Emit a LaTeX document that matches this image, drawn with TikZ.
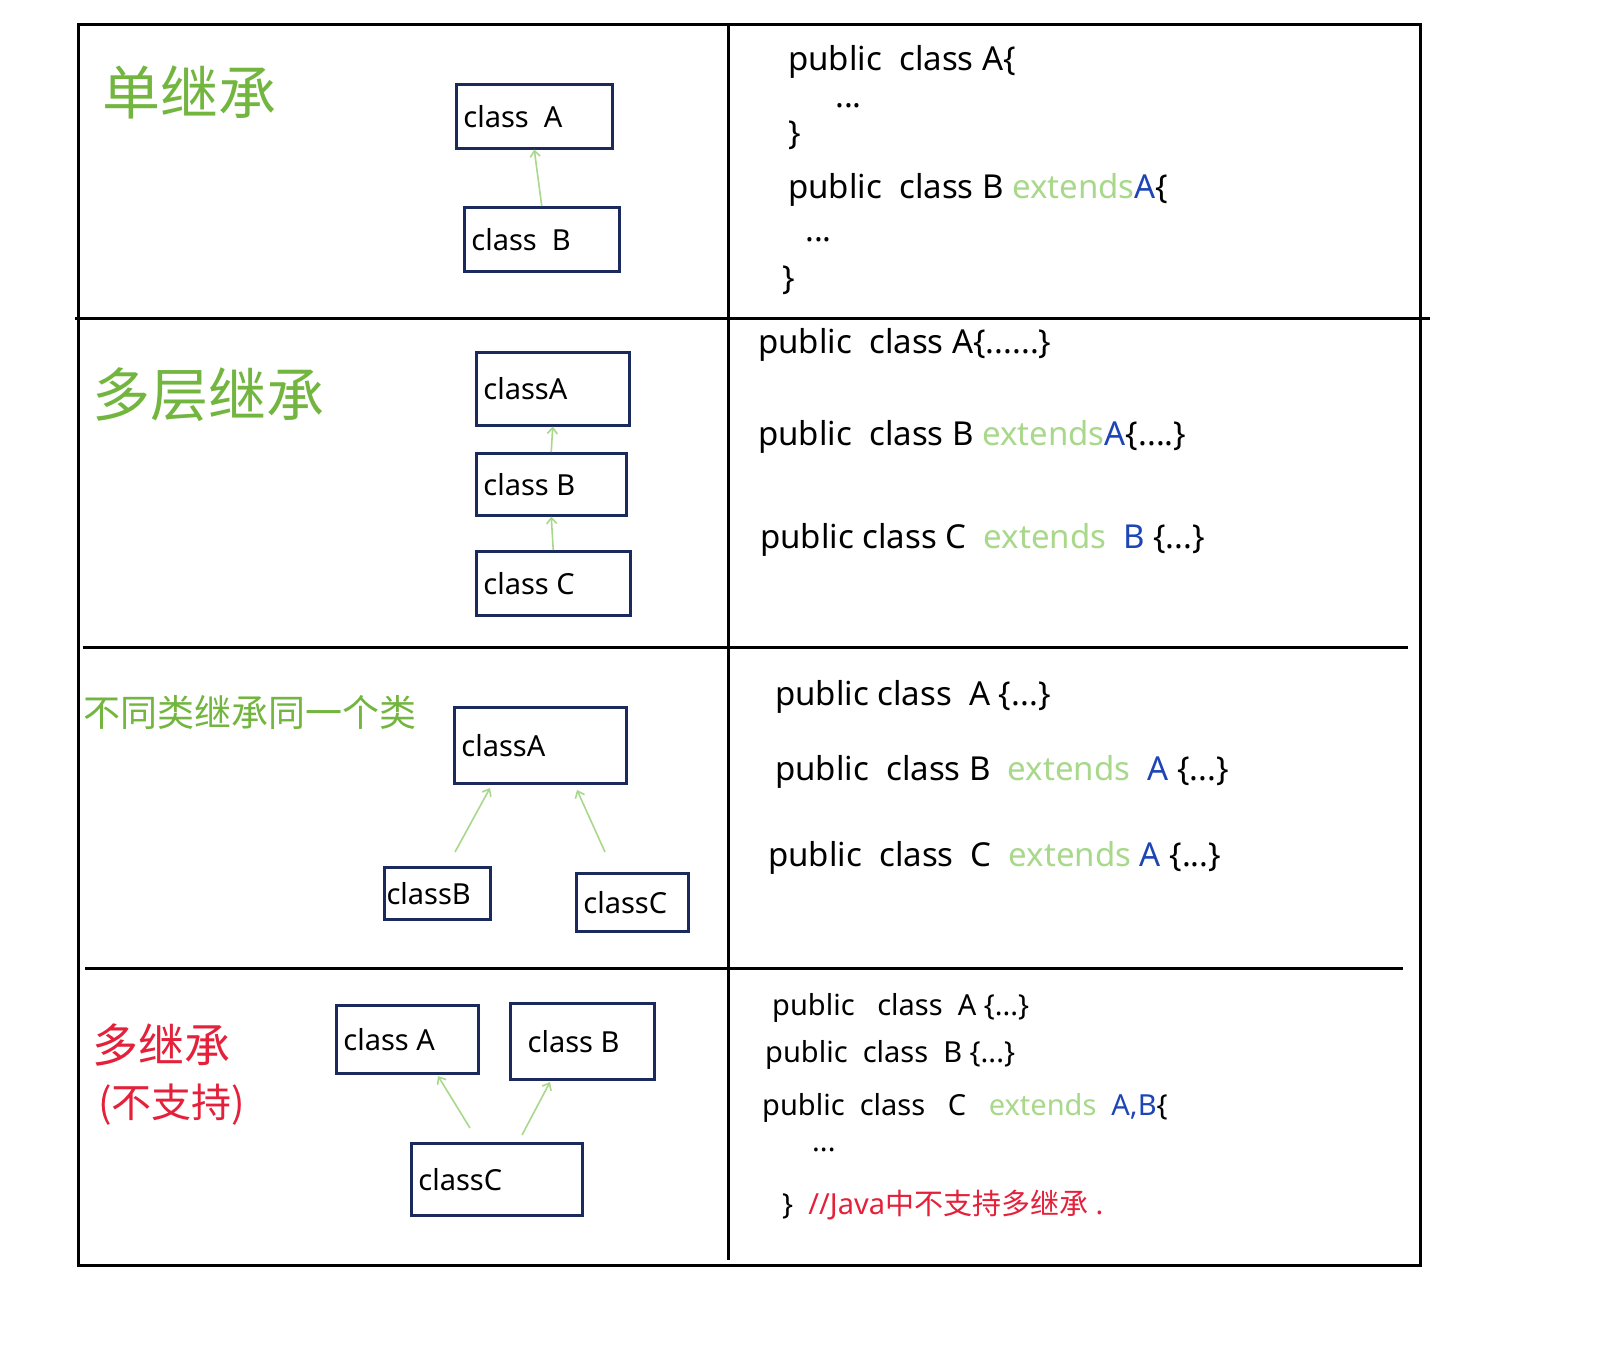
\documentclass[tikz,border=0pt]{standalone}
\usepackage{fontspec}
\setmainfont{Noto Sans}
\newfontfamily\cjk{Noto Sans CJK SC}
\usetikzlibrary{arrows.meta}
\definecolor{tgreen}{HTML}{72B53F}
\definecolor{lgreen}{HTML}{A8D88A}
\definecolor{cblue}{HTML}{1D45B5}
\definecolor{navy}{HTML}{1B2A5C}
\definecolor{cred}{HTML}{E4203A}
\tikzset{
 cls/.style={draw=navy,line width=2.5pt,anchor=north west,inner sep=0pt},
 ar/.style={draw=lgreen,line width=1.6pt,-{Straight Barb[length=6pt,width=10pt]}},
 code/.style={anchor=west,inner sep=0pt,font=\fontsize{33}{36}\selectfont},
 scode/.style={anchor=west,inner sep=0pt,font=\fontsize{29}{32}\selectfont},
 title/.style={anchor=west,inner sep=0pt,font=\cjk\fontsize{58}{60}\selectfont},
 boxtxt/.style={font=\fontsize{29}{32}\selectfont}
}
\begin{document}
\begin{tikzpicture}[x=1pt,y=-1pt]
\useasboundingbox[fill=white] (0,0) rectangle (1599,1358);
\draw[line width=3pt] (78,24) rectangle (1420,1265);
\draw[line width=3pt] (728,24) -- (728,1260);
\draw[line width=3pt] (75,318) -- (1430,318);
\draw[line width=3pt] (83,647) -- (1408,647);
\draw[line width=3pt] (85,968) -- (1403,968);
% section 1
\node[title,text=tgreen] (t1) at (102,92) {单继承};
\node[cls,minimum width=156,minimum height=64] (a1) at (455,83) {};
\node[boxtxt,anchor=west] at (a1.west) {\,class\ \ A};
\node[cls,minimum width=155,minimum height=64] (b1) at (463,206) {};
\node[boxtxt,anchor=west] at (b1.west) {\,class\ \ B};
\draw[ar] (b1.north) -- (a1.south);
\node[code] (c11) at (788,62) {public\ \ class A\{};
\node[code] (c12) at (835,106) {...};
\node[code] (c13) at (788,135) {\}};
\node[code] (c14) at (788,190) {public\ \ class B \textcolor{lgreen}{extends}\textcolor{cblue}{\textbf{A}}\{};
\node[code] (c15) at (805,240) {...};
\node[code] (c16) at (782,280) {\}};
% section 2
\node[title,text=tgreen] (t2) at (92,395) {多层继承};
\node[cls,minimum width=153,minimum height=73] (a2) at (475,351) {};
\node[boxtxt,anchor=west] at (a2.west) {\,classA};
\node[cls,minimum width=150,minimum height=62] (b2) at (475,452) {};
\node[boxtxt,anchor=west] at (b2.west) {\,class B};
\node[cls,minimum width=154,minimum height=64] (cc2) at (475,550) {};
\node[boxtxt,anchor=west] at (cc2.west) {\,class\ C};
\draw[ar] (b2.north) -- (a2.south);
\draw[ar] (cc2.north) -- (b2.south);
\node[code] at (758,345) {public\ \ class A\{......\}};
\node[code] at (758,437) {public\ \ class B \textcolor{lgreen}{extends}\textcolor{cblue}{\textbf{A}}\{....\}};
\node[code] at (760,540) {public class C\ \ \textcolor{lgreen}{extends}\ \ \textcolor{cblue}{B} \{...\}};
% section 3
\node[title,text=tgreen,font=\cjk\fontsize{37}{40}\selectfont] (t3) at (83,712) {不同类继承同一个类};
\node[cls,minimum width=172,minimum height=76] (a3) at (453,706) {};
\node[boxtxt,anchor=west] at (a3.west) {\,classA};
\node[cls,minimum width=106,minimum height=52] (b3) at (383,866) {};
\node[boxtxt,anchor=west] at (b3.west) {classB};
\node[cls,minimum width=112,minimum height=58] (cc3) at (575,872) {};
\node[boxtxt,anchor=west] at (cc3.west) {\,classC};
\coordinate (p31) at (455,852); \coordinate (q31) at (490,788);
\coordinate (p32) at (605,852); \coordinate (q32) at (577,790);
\draw[ar] (p31) -- (q31);
\draw[ar] (p32) -- (q32);
\node[code] at (775,697) {public class\ \ A \{...\}};
\node[code] at (775,772) {public\ \ class B\ \ \textcolor{lgreen}{extends}\ \ \textcolor{cblue}{A} \{...\}};
\node[code] at (768,858) {public\ \ class\ \ C\ \ \textcolor{lgreen}{extends} \textcolor{cblue}{A} \{...\}};
% section 4
\node[title,text=cred,font=\cjk\fontsize{46}{50}\selectfont] (t4) at (92,1045) {多继承};
\node[title,text=cred,font=\cjk\fontsize{40}{44}\selectfont] (t5) at (98,1105) {(不支持)};
\node[cls,minimum width=142,minimum height=68] (a4) at (335,1004) {};
\node[boxtxt,anchor=west] at (a4.west) {\,class A};
\node[cls,minimum width=144,minimum height=76] (b4) at (509,1002) {};
\node[boxtxt,anchor=west] at (b4.west) {\ \ class B};
\node[cls,minimum width=171,minimum height=72] (cc4) at (410,1142) {};
\node[boxtxt,anchor=west] at (cc4.west) {\,classC};
\coordinate (p41) at (470,1128); \coordinate (q41) at (438,1076);
\coordinate (p42) at (522,1135); \coordinate (q42) at (550,1082);
\draw[ar] (p41) -- (q41);
\draw[ar] (p42) -- (q42);
\node[scode] at (772,1008) {public\ \ \ class\ \ A \{...\}};
\node[scode] at (765,1055) {public\ \ class\ \ B \{...\}};
\node[scode] at (762,1108) {public\ \ class\ \ \ C\ \ \ \textcolor{lgreen}{extends}\ \ \textcolor{cblue}{A,B}\{};
\node[scode] at (812,1150) {...};
\node[scode] at (782,1205) {\}\ \ \textcolor{cred}{//Java{\cjk 中不支持多继承}\ .}};
\end{tikzpicture}
\end{document}
